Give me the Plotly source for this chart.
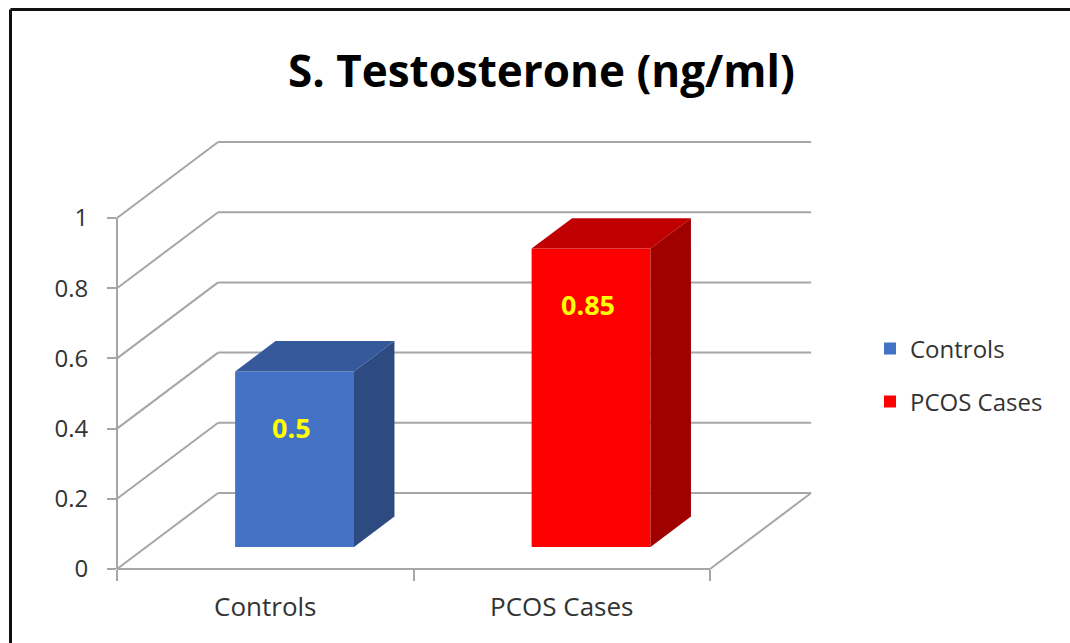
import plotly.graph_objects as go

# ---------------- data ----------------
categories = ["Controls", "PCOS Cases"]
values = [0.5, 0.85]
value_labels = ["0.5", "0.85"]
front_colors = ["#4472C4", "#FF0000"]
top_colors = ["#36599C", "#C00000"]
side_colors = ["#2D4B80", "#A00000"]
y_ticks = [0, 0.2, 0.4, 0.6, 0.8, 1.0]
y_tick_labels = ["0", "0.2", "0.4", "0.6", "0.8", "1"]
title_text = "S. Testosterone (ng/ml)"

# ---------------- geometry / style ----------------
W, H = 1070, 643
X0_PX, SLOT_PX = 117, 296.5     # x of first category boundary, px per category slot
Y0_PX, UNIT_PX = 569, 351       # y of value 0 (front), px per value unit
DX, DY = 0.341, 0.2165          # full depth vector in axis units
BAR_W = 0.401
D_FRONT, D_BACK = 0.29, 0.69
GRID = "#A6A6A6"
FONT = "Open Sans"

x_range = [-X0_PX / SLOT_PX, (W - X0_PX) / SLOT_PX]
y_range = [-(H - Y0_PX) / UNIT_PX, Y0_PX / UNIT_PX]
n = len(categories)

fig = go.Figure()

# gridlines (walls + floor) as shapes below the traces
shapes = []
for v in y_ticks:
    shapes.append(dict(type="line", xref="x", yref="y", x0=0, y0=v, x1=DX, y1=v + DY,
                       line=dict(color=GRID, width=2), layer="below"))
    shapes.append(dict(type="line", xref="x", yref="y", x0=DX, y0=v + DY, x1=n + DX, y1=v + DY,
                       line=dict(color=GRID, width=2), layer="below"))
shapes.append(dict(type="line", xref="x", yref="y", x0=n, y0=0, x1=n + DX, y1=DY,
                   line=dict(color=GRID, width=2), layer="below"))
# outer frame (top and left)
shapes.append(dict(type="line", xref="paper", yref="paper", x0=10.5 / W, y0=1 - 9.5 / H, x1=1.01, y1=1 - 9.5 / H,
                   line=dict(color="#111111", width=3)))
shapes.append(dict(type="line", xref="paper", yref="paper", x0=10.5 / W, y0=1 - 9.5 / H, x1=10.5 / W, y1=-0.01,
                   line=dict(color="#111111", width=3)))

fx, fy = D_FRONT * DX, D_FRONT * DY
ddx, ddy = (D_BACK - D_FRONT) * DX, (D_BACK - D_FRONT) * DY

annotations = []
for i, (cat, v) in enumerate(zip(categories, values)):
    xc = i + 0.5 + fx
    fig.add_trace(go.Bar(x=[xc], y=[v], base=fy, width=BAR_W, name=cat,
                         marker=dict(color=front_colors[i], line=dict(width=0)),
                         legend="legend" if i == 0 else "legend2", hoverinfo="skip"))
    xl, xr = xc - BAR_W / 2, xc + BAR_W / 2
    b, t = fy, fy + v
    # top face
    fig.add_trace(go.Scatter(x=[xl, xr, xr + ddx, xl + ddx, xl], y=[t, t, t + ddy, t + ddy, t],
                             fill="toself", fillcolor=top_colors[i], mode="lines",
                             line=dict(width=0, color=top_colors[i]), showlegend=False, hoverinfo="skip"))
    # side face
    fig.add_trace(go.Scatter(x=[xr, xr, xr + ddx, xr + ddx, xr], y=[b, t, t + ddy, b + ddy, b],
                             fill="toself", fillcolor=side_colors[i], mode="lines",
                             line=dict(width=0, color=side_colors[i]), showlegend=False, hoverinfo="skip"))
    annotations.append(dict(x=xc - 0.01, y=t - 0.16, xref="x", yref="y", text="<b>%s</b>" % value_labels[i],
                            showarrow=False, yanchor="middle",
                            font=dict(family=FONT, size=27, color="#FFFF00")))

# dummy trace to carry the visible category / value axes
fig.add_trace(go.Scatter(x=categories, y=[-1] * n, xaxis="x2", yaxis="y2", mode="markers",
                         marker=dict(opacity=0), showlegend=False, hoverinfo="skip"))

annotations.append(dict(x=541.5 / W, y=1 - 70 / H, xref="paper", yref="paper", text="<b>%s</b>" % title_text,
                        showarrow=False, xanchor="center", yanchor="middle",
                        font=dict(family=FONT, size=44, color="#000000")))

fig.update_layout(
    width=W, height=H,
    margin=dict(l=0, r=0, t=0, b=0, autoexpand=False),
    paper_bgcolor="white", plot_bgcolor="rgba(0,0,0,0)",
    barmode="overlay",
    shapes=shapes, annotations=annotations,
    xaxis=dict(range=x_range, visible=False, domain=[0, 1], fixedrange=True, automargin=False),
    yaxis=dict(range=y_range, visible=False, domain=[0, 1], fixedrange=True, automargin=False),
    xaxis2=dict(domain=[X0_PX / W, (X0_PX + n * SLOT_PX) / W], anchor="free", automargin=False,
                position=(H - Y0_PX) / H, type="category", categoryorder="array",
                categoryarray=categories, range=[-0.5, n - 0.5], tickson="boundaries",
                ticks="outside", ticklen=11, tickwidth=2, tickcolor=GRID,
                showline=True, linecolor=GRID, linewidth=2, showgrid=False, zeroline=False,
                tickfont=dict(family=FONT, size=26, color="#333333"), ticklabelstandoff=15),
    yaxis2=dict(domain=[(H - Y0_PX) / H, (H - Y0_PX + UNIT_PX) / H], anchor="free", automargin=False,
                position=X0_PX / W, range=[0, 1], tickvals=y_ticks, ticktext=y_tick_labels,
                ticks="outside", ticklen=9, tickwidth=2, tickcolor=GRID,
                showline=True, linecolor=GRID, linewidth=2, showgrid=False, zeroline=False,
                tickfont=dict(family=FONT, size=24, color="#333333"), ticklabelstandoff=14),
    legend=dict(x=870 / W, y=1 - 349 / H, xanchor="left", yanchor="middle",
                font=dict(family=FONT, size=24, color="#333333"), bgcolor="rgba(0,0,0,0)"),
    legend2=dict(x=870 / W, y=1 - 402 / H, xanchor="left", yanchor="middle",
                 font=dict(family=FONT, size=24, color="#333333"), bgcolor="rgba(0,0,0,0)"),
)

fig.write_html("out.html", post_script="document.body.style.margin='0';",
               config={"displayModeBar": False})
